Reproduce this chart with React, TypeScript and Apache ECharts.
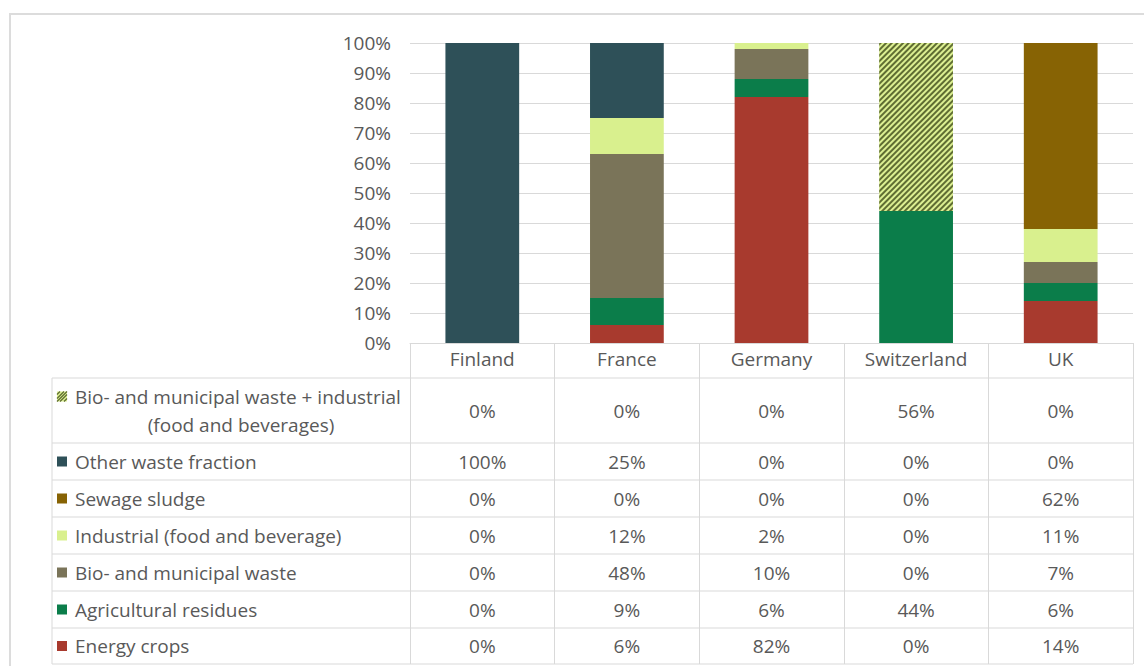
import React, { useEffect, useRef } from "react";
import * as echarts from "echarts";

// Feedstock shares per country (percent)
const countries = ["Finland", "France", "Germany", "Switzerland", "UK"];
const energyCrops = [0, 6, 82, 0, 14];
const agriculturalResidues = [0, 9, 6, 44, 6];
const bioMunicipalWaste = [0, 48, 10, 0, 7];
const industrialFood = [0, 12, 2, 0, 11];
const sewageSludge = [0, 0, 0, 0, 62];
const otherWaste = [100, 25, 0, 0, 0];
const bioPlusIndustrial = [0, 0, 0, 56, 0];

const yMin = 0;
const yMax = 100;
const yStep = 10;

// Stack order, bottom to top
const seriesDefs = [
  { name: "Energy crops", lines: ["Energy crops"], data: energyCrops, color: "#a83a2e" },
  { name: "Agricultural residues", lines: ["Agricultural residues"], data: agriculturalResidues, color: "#0b7d4a" },
  { name: "Bio- and municipal waste", lines: ["Bio- and municipal waste"], data: bioMunicipalWaste, color: "#7a7459" },
  { name: "Industrial (food and beverage)", lines: ["Industrial (food and beverage)"], data: industrialFood, color: "#d9f08e" },
  { name: "Sewage sludge", lines: ["Sewage sludge"], data: sewageSludge, color: "#876304" },
  { name: "Other waste fraction", lines: ["Other waste fraction"], data: otherWaste, color: "#2e5058" },
  {
    name: "Bio- and municipal waste + industrial (food and beverages)",
    lines: ["Bio- and municipal waste + industrial", "(food and beverages)"],
    data: bioPlusIndustrial,
    color: "#dcef92",
    hatch: "#5f6d32",
  },
];

const W = 1144;
const H = 666;
const FONT = "'Open Sans', sans-serif";
const FS = 19;
const TEXT = "#595959";
const RULE = "#d9d9d9";

const grid = { left: 410, right: 11, top: 43, bottom: 323 };
const plotBottom = H - grid.bottom;
const tableLeft = 52;
const tableBottom = 664;
// Row edges of the data table (below the category header row)
const rowEdges = [378, 443, 480, 517, 554, 591, 628, tableBottom];

function buildTable() {
  const els: any[] = [];
  const right = W - grid.right;
  const colW = (right - grid.left) / countries.length;

  rowEdges.forEach((y) => {
    els.push({
      type: "line",
      shape: { x1: tableLeft, y1: y, x2: right, y2: y },
      style: { stroke: RULE, lineWidth: 1 },
      silent: true,
    });
  });
  els.push({
    type: "line",
    shape: { x1: tableLeft, y1: rowEdges[0], x2: tableLeft, y2: tableBottom },
    style: { stroke: RULE, lineWidth: 1 },
    silent: true,
  });

  const rows = [...seriesDefs].reverse();
  rows.forEach((s, r) => {
    const top = rowEdges[r];
    const bottom = rowEdges[r + 1];
    const cy = (top + bottom) / 2;
    const lineGap = 28;
    const firstY = s.lines.length > 1 ? cy - lineGap / 2 : cy;

    // legend key
    const keyX = 57;
    const keyY = firstY - 5;
    els.push({
      type: "rect",
      shape: { x: keyX, y: keyY, width: 10, height: 10 },
      style: { fill: s.color },
      silent: true,
    });
    if ((s as any).hatch) {
      [
        [0, 3, 3, 0],
        [0, 7, 7, 0],
        [0, 10, 10, 0],
        [3, 10, 10, 3],
        [7, 10, 10, 7],
      ].forEach(([x1, y1, x2, y2]) => {
        els.push({
          type: "line",
          shape: { x1: keyX + x1, y1: keyY + y1, x2: keyX + x2, y2: keyY + y2 },
          style: { stroke: (s as any).hatch, lineWidth: 1.3 },
          silent: true,
        });
      });
    }
    s.lines.forEach((t, i) => {
      const centered = i > 0;
      els.push({
        type: "text",
        x: centered ? 241 : 75,
        y: firstY + i * lineGap,
        style: {
          text: t,
          fill: TEXT,
          font: `${FS}px ${FONT}`,
          align: centered ? "center" : "left",
          verticalAlign: "middle",
        },
        silent: true,
      });
    });

    s.data.forEach((v, c) => {
      els.push({
        type: "text",
        x: grid.left + colW * (c + 0.5),
        y: cy,
        style: {
          text: `${v}%`,
          fill: TEXT,
          font: `${FS}px ${FONT}`,
          align: "center",
          verticalAlign: "middle",
        },
        silent: true,
      });
    });
  });

  // outer frame
  els.push({
    type: "rect",
    shape: { x: 10, y: 14, width: W + 40, height: H + 40 },
    style: { fill: "none", stroke: "#dcdcdc", lineWidth: 2 },
    silent: true,
  });
  return els;
}

export default function App() {
  const ref = useRef<HTMLDivElement>(null);

  useEffect(() => {
    document.body.style.margin = "0";
    if (!ref.current) return;
    const chart = echarts.init(ref.current, null, { renderer: "svg" });

    const series = seriesDefs.map((s) => ({
      name: s.name,
      type: "bar",
      stack: "total",
      barWidth: "51%",
      data: s.data,
      itemStyle: (s as any).hatch
        ? {
            color: s.color,
            decal: {
              symbol: "rect",
              symbolSize: 1,
              color: (s as any).hatch,
              dashArrayX: [1, 0],
              dashArrayY: [2, 2],
              rotation: -Math.PI / 4,
            },
          }
        : { color: s.color },
      emphasis: { disabled: true },
    }));

    chart.setOption({
      animation: false,
      backgroundColor: "#ffffff",
      textStyle: { fontFamily: FONT },
      grid: { ...grid, containLabel: false },
      xAxis: {
        type: "category",
        data: countries,
        axisLine: { show: true, lineStyle: { color: RULE, width: 1 } },
        axisTick: {
          show: true,
          length: tableBottom - plotBottom,
          lineStyle: { color: RULE, width: 1 },
        },
        axisLabel: { color: TEXT, fontSize: FS, fontFamily: FONT, margin: 6 },
      },
      yAxis: {
        type: "value",
        min: yMin,
        max: yMax,
        interval: yStep,
        axisLine: { show: false },
        axisTick: { show: false },
        axisLabel: { color: TEXT, fontSize: FS, fontFamily: FONT, margin: 19, formatter: "{value}%" },
        splitLine: { lineStyle: { color: RULE, width: 1 } },
      },
      series,
      graphic: buildTable(),
    });

    return () => chart.dispose();
  }, []);

  return <div ref={ref} style={{ width: W, height: H }} />;
}
